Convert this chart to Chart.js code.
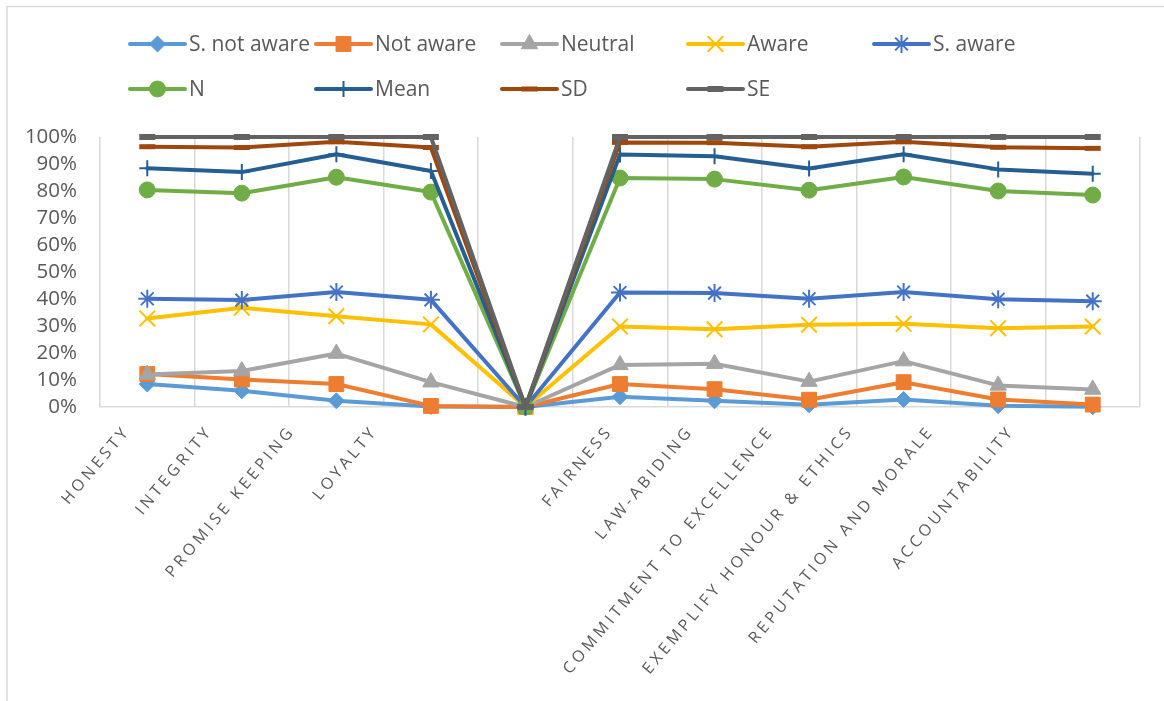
<!DOCTYPE html>
<html>
<head>
<meta charset="utf-8">
<script src="https://cdn.jsdelivr.net/npm/chart.js@4.4.0/dist/chart.umd.min.js"></script>
<style>
  html, body { margin: 0; padding: 0; background: #ffffff; }
  #wrap { width: 1164px; height: 701px; }
</style>
</head>
<body>
<div id="wrap"><canvas id="c" width="1164" height="701"></canvas></div>
<script>
// Categories (the empty one is a spacer column between the two groups)
const categories = ['HONESTY', 'INTEGRITY', 'PROMISE KEEPING', 'LOYALTY', '',
  'FAIRNESS', 'LAW-ABIDING', 'COMMITMENT TO EXCELLENCE', 'EXEMPLIFY HONOUR & ETHICS',
  'REPUTATION AND MORALE', 'ACCOUNTABILITY'];

// Series values, in percent
const sNotAware = [8.5, 6.0, 2.3, 0.2, 0, 3.8, 2.3, 0.8, 2.8, 0.5, 0.1];
const notAware  = [12.2, 10.2, 8.5, 0.4, 0, 8.5, 6.6, 2.7, 9.2, 2.8, 0.9];
const neutral   = [12.0, 13.3, 19.8, 9.2, 0, 15.6, 16.0, 9.4, 17.0, 8.0, 6.5];
const aware     = [32.8, 36.8, 33.6, 30.6, 0, 29.8, 28.8, 30.5, 30.8, 29.2, 29.8];
const sAware    = [40.1, 39.6, 42.6, 39.7, 0, 42.4, 42.2, 40.1, 42.6, 39.9, 39.2];
const nVals     = [80.4, 79.2, 85.1, 79.6, 0, 84.8, 84.4, 80.3, 85.2, 80.0, 78.5];
const meanVals  = [88.4, 87.0, 93.6, 87.4, 0, 93.5, 92.9, 88.3, 93.6, 88.0, 86.4];
const sdVals    = [96.4, 96.1, 98.2, 96.1, 0, 98.0, 97.9, 96.4, 98.2, 96.2, 95.8];
const seVals    = [100, 100, 100, 100, 0, 100, 100, 100, 100, 100, 100];

// Y-axis tick labels
const yTickLabels = ['0%', '10%', '20%', '30%', '40%', '50%', '60%', '70%', '80%', '90%', '100%'];

const seriesNames = ['S. not aware', 'Not aware', 'Neutral', 'Aware', 'S. aware', 'N', 'Mean', 'SD', 'SE'];
const seriesData = [sNotAware, notAware, neutral, aware, sAware, nVals, meanVals, sdVals, seVals];

// Look of each series: colour and marker
const seriesLook = [
  { color: '#5B9BD5', pointStyle: 'rectRot',  radius: 8,   pbw: 1 },
  { color: '#ED7D31', pointStyle: 'rect',     radius: 10.5, pbw: 1 },
  { color: '#A5A5A5', pointStyle: 'triangle', radius: 9.5, pbw: 1 },
  { color: '#FFC000', pointStyle: 'crossRot', radius: 11,  pbw: 2 },
  { color: '#4472C4', pointStyle: 'star',     radius: 9,   pbw: 2 },
  { color: '#70AD47', pointStyle: 'circle',   radius: 8,   pbw: 1 },
  { color: '#255E91', pointStyle: 'cross',    radius: 8,   pbw: 2 },
  { color: '#9E480E', pointStyle: 'line',     radius: 8,   pbw: 5 },
  { color: '#636363', pointStyle: 'line',     radius: 8,   pbw: 6 }
];

const TEXT = '#595959';
const FONT = "'Open Sans', 'Noto Sans', sans-serif";

// Horizontal nudge (px) of each rotated category label relative to its tick
const labelNudge = [-20, -32, -44, -56, 0, -10, -24, -38, -53, -67, -81];

// Category axis whose labels are drawn letter-spaced and nudged per tick
class SpacedCategoryScale extends Chart.CategoryScale {
  _computeLabelItems(chartArea) {
    const items = super._computeLabelItems(chartArea);
    items.forEach((item, i) => {
      const holder = item.options && item.options.translation ? item.options : item;
      if (holder.translation) {
        holder.translation = [holder.translation[0] + (labelNudge[i] || 0), holder.translation[1]];
      }
    });
    return items;
  }
  drawLabels(area) {
    const ctx = this.ctx;
    ctx.save();
    ctx.letterSpacing = '3.6px';
    super.drawLabels(area);
    ctx.restore();
  }
}
SpacedCategoryScale.id = 'spacedCategory';
SpacedCategoryScale.defaults = Chart.CategoryScale.defaults;
Chart.register(SpacedCategoryScale);

// Outer frame of the chart
const framePlugin = {
  id: 'frame',
  beforeDraw(chart) {
    const ctx = chart.ctx;
    ctx.save();
    ctx.strokeStyle = '#D9D9D9';
    ctx.lineWidth = 1.5;
    ctx.beginPath();
    ctx.moveTo(7, 701);
    ctx.lineTo(7, 6.5);
    ctx.lineTo(1164, 6.5);
    ctx.stroke();
    ctx.restore();
  }
};

function drawMarker(ctx, look, x, y) {
  const opts = { pointStyle: look.pointStyle, radius: look.radius, rotation: 0, borderWidth: look.pbw };
  if (Chart.helpers && Chart.helpers.drawPoint) {
    Chart.helpers.drawPoint(ctx, opts, x, y);
  }
}

// Legend in a fixed grid: line sample with the marker in its middle, then the name
const legendPlugin = {
  id: 'gridLegend',
  afterDraw(chart) {
    const ctx = chart.ctx;
    const cols = 5, colW = 186, x0 = 130, rowY = [44, 89];
    ctx.save();
    chart.data.datasets.forEach((ds, i) => {
      const look = seriesLook[i];
      const x = x0 + (i % cols) * colW;
      const y = rowY[Math.floor(i / cols)];
      ctx.strokeStyle = look.color;
      ctx.fillStyle = look.color;
      ctx.lineWidth = 4;
      ctx.lineCap = 'round';
      ctx.beginPath();
      ctx.moveTo(x, y);
      ctx.lineTo(x + 55, y);
      ctx.stroke();
      ctx.lineCap = 'butt';
      ctx.lineWidth = look.pbw;
      drawMarker(ctx, look, x + 27.5, y);
      ctx.fillStyle = TEXT;
      ctx.font = "21px " + FONT;
      ctx.textAlign = 'left';
      ctx.textBaseline = 'middle';
      ctx.fillText(ds.label, x + 59, y + 1);
    });
    ctx.restore();
  }
};

const datasets = seriesNames.map((name, i) => {
  const look = seriesLook[i];
  return {
    label: name,
    data: seriesData[i],
    borderColor: look.color,
    backgroundColor: look.color,
    borderWidth: 4,
    borderJoinStyle: 'round',
    borderCapStyle: 'round',
    pointStyle: look.pointStyle,
    pointRadius: look.radius,
    pointHoverRadius: look.radius,
    pointBorderWidth: look.pbw,
    pointBackgroundColor: look.color,
    pointBorderColor: look.color,
    tension: 0,
    fill: false,
    clip: false,
    order: seriesNames.length - i
  };
});

new Chart(document.getElementById('c'), {
  type: 'line',
  data: { labels: categories, datasets },
  plugins: [framePlugin, legendPlugin],
  options: {
    responsive: false,
    animation: false,
    events: [],
    layout: { padding: { top: 137, left: 8, right: 24, bottom: 0 } },
    plugins: {
      legend: { display: false },
      tooltip: { enabled: false },
      title: { display: false }
    },
    scales: {
      x: {
        type: 'spacedCategory',
        offset: true,
        grid: { display: true, offset: true, color: '#D9D9D9', lineWidth: 1.5, drawTicks: false },
        border: { display: true, color: '#D9D9D9', width: 1.5 },
        ticks: {
          autoSkip: false,
          minRotation: 50,
          maxRotation: 50,
          padding: 15,
          labelOffset: 0,
          color: TEXT,
          font: { family: FONT, size: 16 }
        },
        afterFit(scale) { scale.height = 294; }
      },
      y: {
        min: 0,
        max: 100,
        grid: { display: false, drawTicks: false },
        border: { display: false },
        ticks: {
          autoSkip: false,
          stepSize: 10,
          padding: 23,
          color: TEXT,
          font: { family: FONT, size: 20.5 },
          callback: (v) => yTickLabels[Math.round(v / 10)]
        },
        afterFit(scale) { scale.width = 92; }
      }
    }
  }
});
</script>
</body>
</html>
